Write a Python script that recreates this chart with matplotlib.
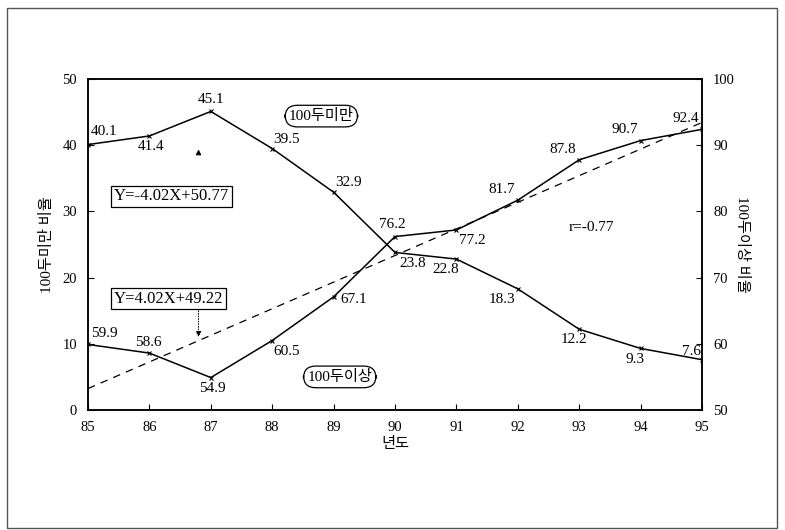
import matplotlib
matplotlib.use('Agg')
import matplotlib.pyplot as plt
from matplotlib.patches import Rectangle

plt.rcParams['font.family'] = ['Liberation Serif', 'Noto Sans CJK KR', 'DejaVu Sans']

# 연도별 규모 비율 (%)
years = [85, 86, 87, 88, 89, 90, 91, 92, 93, 94, 95]
under100 = [40.1, 41.4, 45.1, 39.5, 32.9, 23.8, 22.8, 18.3, 12.2, 9.3, 7.6]
over100 = [59.9, 58.6, 54.9, 60.5, 67.1, 76.2, 77.2, 81.7, 87.8, 90.7, 92.4]

# 100두이상 회귀식 Y = a*X + b (X = 연도 - 84)
slope, intercept = 4.02, 49.22

# 값 라벨 위치 (points offset, ha, va)
under_offsets = [(2, 5, 'left', 'bottom'), (1, -3, 'center', 'top'), (0, 4, 'center', 'bottom'),
                 (1, 2, 'left', 'bottom'), (1, 2, 'left', 'bottom'), (3, -3, 'left', 'top'),
                 (-8, -3, 'center', 'top'), (-2, -3, 'right', 'top'), (-4, -3, 'center', 'top'),
                 (-4, -3, 'center', 'top'), (-1, 1, 'right', 'bottom')]
over_offsets = [(2, 3, 'left', 'bottom'), (-1, 3, 'center', 'bottom'), (1, -3, 'center', 'top'),
                (1, -3, 'left', 'top'), (5, -2, 'left', 'center'), (-2, 4, 'center', 'bottom'),
                (2, -3, 'left', 'top'), (-2, 3, 'right', 'bottom'), (-2, 3, 'right', 'bottom'),
                (-2, 3, 'right', 'bottom'), (-2, 3, 'right', 'bottom')]

fig = plt.figure(figsize=(7.85, 5.3), dpi=100)
ax = fig.add_axes([0.1121, 0.2264, 0.7822, 0.6245])
ax2 = ax.twinx()

ax.plot(years, under100, color='black', lw=1.1, marker='x', ms=3.5, mew=0.8)
ax2.plot(years, over100, color='black', lw=1.1, marker='x', ms=3.5, mew=0.8)
fit = [slope * (y - 84) + intercept for y in years]
ax2.plot(years, fit, color='black', lw=0.9, ls=(0, (6, 5)))

for x, v, (dx, dy, ha, va) in zip(years, under100, under_offsets):
    ax.annotate(f'{v}', (x, v), xytext=(dx, dy), textcoords='offset points',
                ha=ha, va=va, fontsize=11)
for x, v, (dx, dy, ha, va) in zip(years, over100, over_offsets):
    ax2.annotate(f'{v}', (x, v), xytext=(dx, dy), textcoords='offset points',
                 ha=ha, va=va, fontsize=11)

ax.set_xlim(85, 95)
ax.set_ylim(0, 50)
ax2.set_ylim(50, 100)
ax.set_xticks(years)
ax.set_yticks(range(0, 51, 10))
ax2.set_yticks(range(50, 101, 10))
ax.tick_params(direction='in', length=4, labelsize=10.5, pad=8)
ax2.tick_params(direction='in', length=4, labelsize=10.5, pad=8)
for a in (ax, ax2):
    for s in a.spines.values():
        s.set_linewidth(1.1)

ax.set_xlabel('년도', fontsize=11, labelpad=2)
ax.set_ylabel('100두미만 비율', fontsize=11, labelpad=6)
ax2.set_ylabel('100두이상 비율', fontsize=11, rotation=270, labelpad=10)

# 곡선 이름
ax.text(88.8, 44.4, '100두미만', ha='center', va='center', fontsize=11,
        bbox=dict(boxstyle='round,pad=0.25,rounding_size=0.8', fc='white', ec='black', lw=0.9))
ax.text(89.1, 5.0, '100두이상', ha='center', va='center', fontsize=11,
        bbox=dict(boxstyle='round,pad=0.25,rounding_size=0.8', fc='white', ec='black', lw=0.9))

# 회귀식과 상관계수
ax.text(85.42, 32.3, 'Y=-4.02X+50.77', ha='left', va='center', fontsize=12,
        bbox=dict(boxstyle='square,pad=0.15', fc='white', ec='black', lw=0.9))
ax.text(85.42, 16.8, 'Y=4.02X+49.22', ha='left', va='center', fontsize=12,
        bbox=dict(boxstyle='square,pad=0.15', fc='white', ec='black', lw=0.9))
ax.annotate('', xy=(86.8, 10.6), xytext=(86.8, 15.4),
            arrowprops=dict(arrowstyle='-|>', lw=0.7, ls=':', color='black',
                            mutation_scale=8))
ax.annotate('', xy=(86.8, 39.8), xytext=(86.8, 38.3),
            arrowprops=dict(arrowstyle='-|>', lw=0.7, color='black',
                            mutation_scale=8))
ax.text(93.2, 27.6, 'r=-0.77', ha='center', va='center', fontsize=11)

# 바깥 테두리
fig.patches.append(Rectangle((7 / 785, 2 / 530), 770 / 785, 520 / 530,
                             transform=fig.transFigure, fill=False,
                             ec='#555555', lw=1.0))

fig.savefig('out.png', dpi=100)
